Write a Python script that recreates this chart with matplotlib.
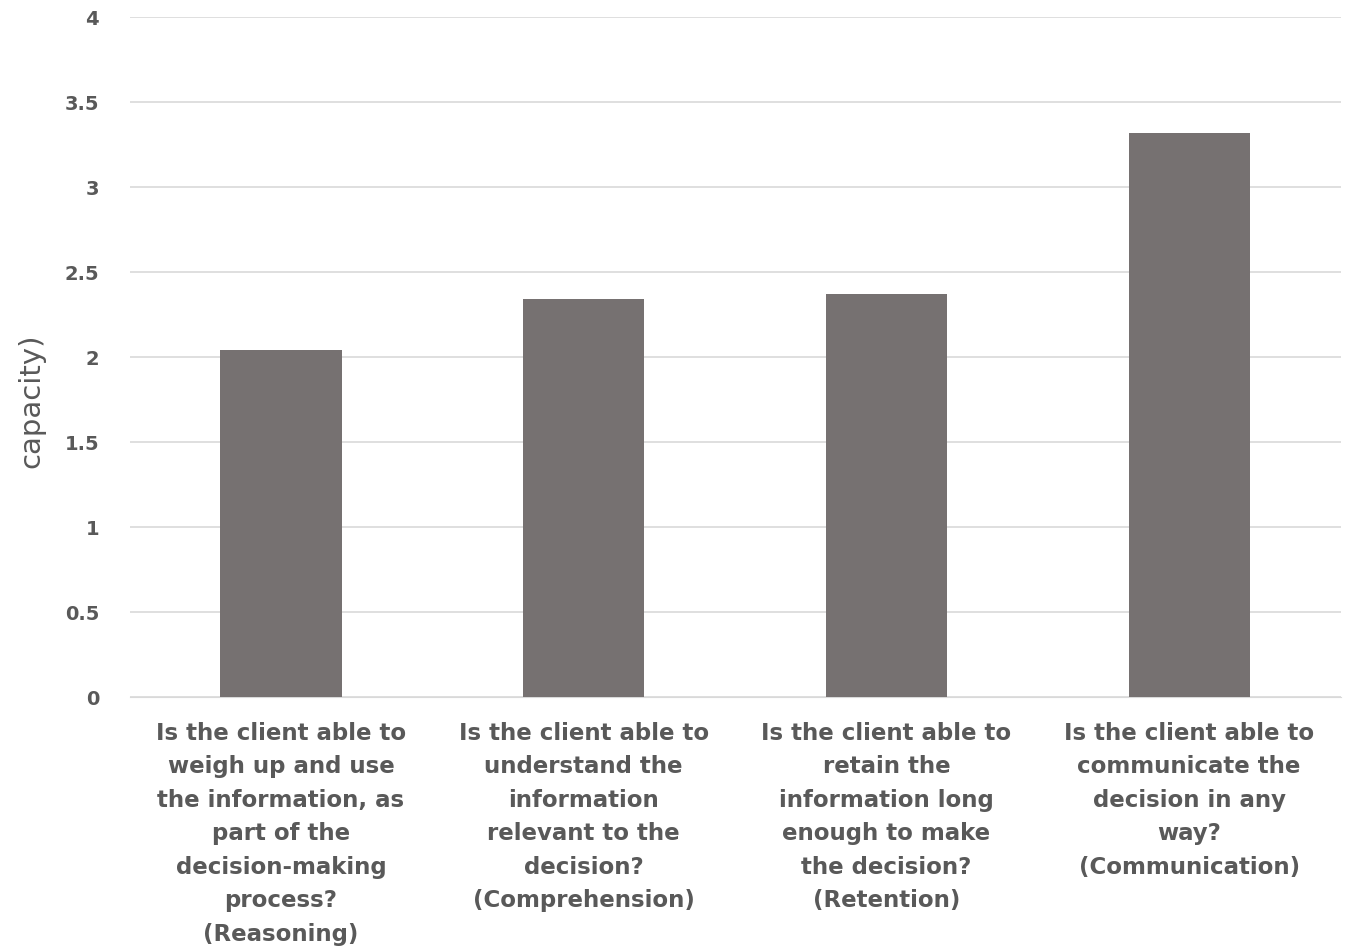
import matplotlib
matplotlib.use("Agg")
import matplotlib.pyplot as plt

categories = [
    "Is the client able to\nweigh up and use\nthe information, as\npart of the\ndecision-making\nprocess?\n(Reasoning)",
    "Is the client able to\nunderstand the\ninformation\nrelevant to the\ndecision?\n(Comprehension)",
    "Is the client able to\nretain the\ninformation long\nenough to make\nthe decision?\n(Retention)",
    "Is the client able to\ncommunicate the\ndecision in any\nway?\n(Communication)",
]
values = [2.04, 2.34, 2.37, 3.32]
yticks = [0, 0.5, 1, 1.5, 2, 2.5, 3, 3.5, 4]
ytick_labels = ["0", "0.5", "1", "1.5", "2", "2.5", "3", "3.5", "4"]
ylabel = "capacity)"

fig = plt.figure(figsize=(13.5, 9.49), dpi=100)
ax = fig.add_axes([0.096, 0.2655, 0.897, 0.7165])

x = range(len(categories))
ax.bar(x, values, width=0.4, color="#767171", zorder=3)
ax.set_xlim(-0.5, 3.5)
ax.set_ylim(0, 4)
ax.set_yticks(yticks)
ax.set_yticklabels(ytick_labels, fontsize=14, color="#595959", family="DejaVu Sans", fontweight="bold")
ax.set_xticks(list(x))
ax.set_xticklabels(categories, fontsize=16.5, color="#595959", family="DejaVu Sans",
                   fontweight="bold", linespacing=1.58)
ax.yaxis.grid(True, color="#d9d9d9", linewidth=1.2, zorder=0)
for s in ["top", "right", "left"]:
    ax.spines[s].set_visible(False)
ax.spines["bottom"].set_color("#d9d9d9")
ax.tick_params(axis="both", length=0)
ax.tick_params(axis="y", pad=22)
ax.tick_params(axis="x", pad=18)

fig.text(0.023, 0.578, ylabel, rotation=90, fontsize=21, color="#595959",
         family="DejaVu Sans", va="center", ha="center")

fig.savefig("out.png", dpi=100)
